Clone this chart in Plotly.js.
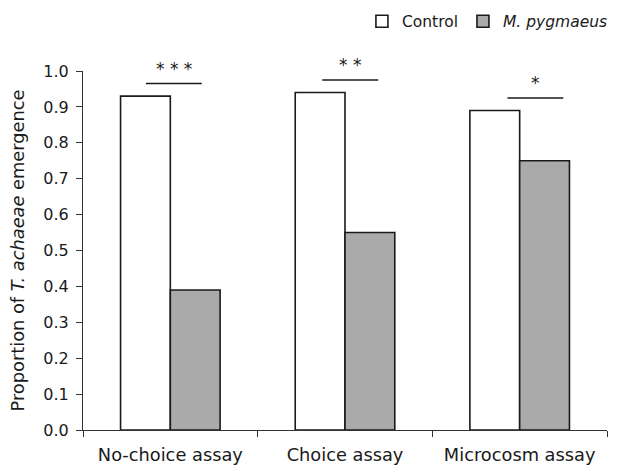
<!DOCTYPE html>
<html>
<head>
<meta charset="utf-8">
<script src="https://cdn.plot.ly/plotly-3.0.1.min.js"></script>
<style>html,body{margin:0;padding:0;background:#fff;}#chart{width:628px;height:465px;}</style>
</head>
<body>
<div id="chart"></div>
<script>
const categories = ['No-choice assay', 'Choice assay', 'Microcosm assay'];
const controlValues = [0.93, 0.94, 0.89];
const pygmaeusValues = [0.39, 0.55, 0.75];
const seriesNames = ['Control', '<i>M. pygmaeus</i>'];
const sigLabels = ['* * *', '* *', '*'];
const yTicks = [0, 0.1, 0.2, 0.3, 0.4, 0.5, 0.6, 0.7, 0.8, 0.9, 1.0];

const FONT = 'DejaVu Sans, Liberation Sans, Arial, sans-serif';
const INK = '#1a1a1a';

const traces = [
  {type: 'bar', name: seriesNames[0], x: categories, y: controlValues,
   marker: {color: '#ffffff', line: {color: INK, width: 1.6}}},
  {type: 'bar', name: seriesNames[1], x: categories, y: pygmaeusValues,
   marker: {color: '#aaaaaa', line: {color: INK, width: 1.6}}}
];

const shapes = [];
const annotations = [];
const xShift = [0.02, 0.03, 0.09];
categories.forEach((c, i) => {
  const top = Math.max(controlValues[i], pygmaeusValues[i]) + 0.035;
  const cx = i + xShift[i];
  shapes.push({type: 'line', xref: 'x', yref: 'y', x0: cx - 0.16, x1: cx + 0.16, y0: top, y1: top,
    line: {color: INK, width: 1.6}});
  annotations.push({xref: 'x', yref: 'y', x: cx, y: top, text: sigLabels[i], showarrow: false,
    yanchor: 'bottom', yshift: 3, font: {family: FONT, size: 17, color: INK}});
});

const layout = {
  width: 628, height: 465,
  margin: {l: 83, r: 21, t: 71, b: 35},
  paper_bgcolor: '#fff', plot_bgcolor: '#fff',
  barmode: 'group', bargap: 0.43, bargroupgap: 0,
  showlegend: true,
  legend: {orientation: 'h', xref: 'container', x: 0.976, xanchor: 'right', y: 0.99, yref: 'container', yanchor: 'top',
    font: {family: FONT, size: 15.5, color: INK}, traceorder: 'normal'},
  xaxis: {
    type: 'category', range: [-0.5, 2.5], tickson: 'boundaries', ticks: 'outside', ticklen: 6,
    tickcolor: '#333', showline: true, linecolor: '#333', linewidth: 1, showgrid: false, zeroline: false,
    ticklabelstandoff: 9,
    tickfont: {family: FONT, size: 17.8, color: INK}
  },
  yaxis: {
    range: [0, 1.0], tickvals: yTicks, ticktext: yTicks.map(v => v.toFixed(1)),
    ticks: 'outside', ticklen: 6, tickcolor: '#333', showline: true, linecolor: '#333', linewidth: 1,
    showgrid: false, zeroline: false, ticklabelstandoff: 4,
    tickfont: {family: FONT, size: 16, color: INK},
    title: {text: 'Proportion of <i>T. achaeae</i> emergence', font: {family: FONT, size: 17.8, color: INK}, standoff: 14}
  },
  shapes: shapes,
  annotations: annotations
};

Plotly.newPlot('chart', traces, layout, {displayModeBar: false, staticPlot: true});
</script>
</body>
</html>
